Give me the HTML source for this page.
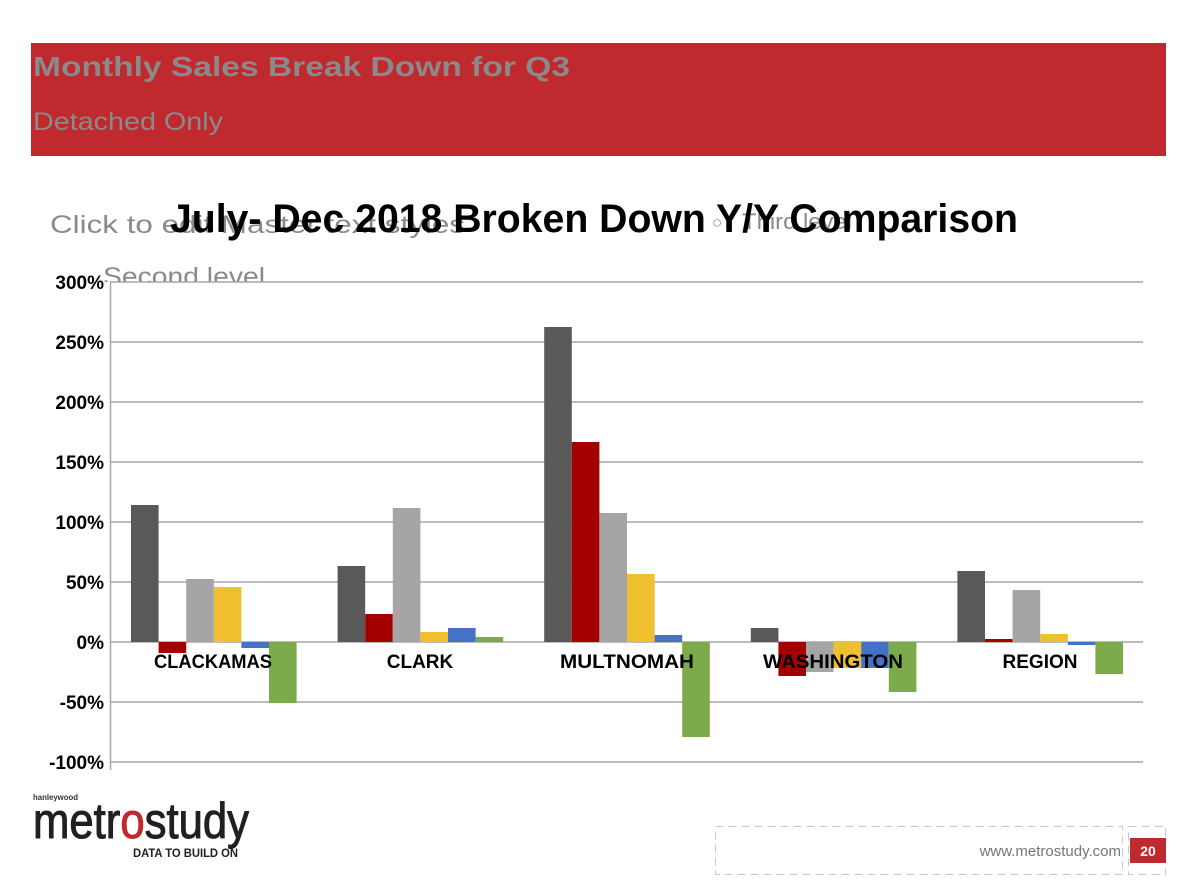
<!DOCTYPE html>
<html><head><meta charset="utf-8"><style>
html,body{margin:0;padding:0;background:#fff;}
svg{display:block;}
</style></head><body>
<svg width="1200" height="888" viewBox="0 0 1200 888" xmlns="http://www.w3.org/2000/svg" font-family="'Liberation Sans', Arial, sans-serif">
<rect width="1200" height="888" fill="#fff"/>
<!-- header -->
<rect x="31" y="43" width="1135" height="113" fill="#c0292e"/>
<text x="33" y="76" font-size="28" font-weight="bold" fill="#8a8a8a" textLength="537" lengthAdjust="spacingAndGlyphs">Monthly Sales Break Down for Q3</text>
<text x="33" y="130" font-size="25" fill="#8a8a8a" textLength="190" lengthAdjust="spacingAndGlyphs">Detached Only</text>

<!-- placeholder text behind -->
<text x="50" y="233" font-size="25" fill="#8a8a8a" textLength="415" lengthAdjust="spacingAndGlyphs">Click to edit Master text styles</text>
<text x="712" y="228" font-size="17" fill="#8a8a8a">○</text>
<text x="742" y="229" font-size="22" fill="#8a8a8a" textLength="110" lengthAdjust="spacingAndGlyphs">Third level</text>
<defs><clipPath id="c2"><rect x="0" y="0" width="1200" height="282"/></clipPath></defs>
<text x="103" y="285" font-size="25" fill="#8a8a8a" clip-path="url(#c2)" textLength="162" lengthAdjust="spacingAndGlyphs">Second level</text>

<!-- chart title -->
<text x="170" y="232" font-size="40" font-weight="bold" fill="#000" textLength="848" lengthAdjust="spacingAndGlyphs">July- Dec 2018 Broken Down Y/Y Comparison</text>

<!-- gridlines -->
<g stroke="#a6a6a6" stroke-width="1.5">
<line x1="110" y1="282" x2="1143" y2="282"/>
<line x1="110" y1="342" x2="1143" y2="342"/>
<line x1="110" y1="402" x2="1143" y2="402"/>
<line x1="110" y1="462" x2="1143" y2="462"/>
<line x1="110" y1="522" x2="1143" y2="522"/>
<line x1="110" y1="582" x2="1143" y2="582"/>
<line x1="110" y1="642" x2="1143" y2="642"/>
<line x1="110" y1="702" x2="1143" y2="702"/>
<line x1="110" y1="762" x2="1143" y2="762"/>
<line x1="110.5" y1="282" x2="110.5" y2="770"/>
</g>

<!-- y labels -->
<g font-size="19" font-weight="bold" fill="#000" text-anchor="end">
<text x="104" y="289">300%</text>
<text x="104" y="349">250%</text>
<text x="104" y="409">200%</text>
<text x="104" y="469">150%</text>
<text x="104" y="529">100%</text>
<text x="104" y="589">50%</text>
<text x="104" y="649">0%</text>
<text x="104" y="709">-50%</text>
<text x="104" y="769">-100%</text>
</g>

<!-- bars -->
<g>
<rect x="131" y="505" width="27.6" height="137" fill="#595959"/>
<rect x="158.6" y="642" width="27.6" height="11" fill="#a50000"/>
<rect x="186.2" y="579" width="27.6" height="63" fill="#a5a5a5"/>
<rect x="213.8" y="587" width="27.6" height="55" fill="#efbf30"/>
<rect x="241.4" y="642" width="27.6" height="6" fill="#4472c4"/>
<rect x="269" y="642" width="27.6" height="61" fill="#7dab4b"/>
<rect x="337.6" y="566" width="27.6" height="76" fill="#595959"/>
<rect x="365.2" y="614" width="27.6" height="28" fill="#a50000"/>
<rect x="392.8" y="508" width="27.6" height="134" fill="#a5a5a5"/>
<rect x="420.4" y="632" width="27.6" height="10" fill="#efbf30"/>
<rect x="448" y="628" width="27.6" height="14" fill="#4472c4"/>
<rect x="475.6" y="637" width="27.6" height="5" fill="#7dab4b"/>
<rect x="544.2" y="327" width="27.6" height="315" fill="#595959"/>
<rect x="571.8" y="442" width="27.6" height="200" fill="#a50000"/>
<rect x="599.4" y="513" width="27.6" height="129" fill="#a5a5a5"/>
<rect x="627" y="574" width="27.6" height="68" fill="#efbf30"/>
<rect x="654.6" y="635" width="27.6" height="7" fill="#4472c4"/>
<rect x="682.2" y="642" width="27.6" height="95" fill="#7dab4b"/>
<rect x="750.8" y="628" width="27.6" height="14" fill="#595959"/>
<rect x="778.4" y="642" width="27.6" height="34" fill="#a50000"/>
<rect x="806" y="642" width="27.6" height="30" fill="#a5a5a5"/>
<rect x="833.6" y="642" width="27.6" height="26" fill="#efbf30"/>
<rect x="861.2" y="642" width="27.6" height="26" fill="#4472c4"/>
<rect x="888.8" y="642" width="27.6" height="50" fill="#7dab4b"/>
<rect x="957.4" y="571" width="27.6" height="71" fill="#595959"/>
<rect x="985" y="639" width="27.6" height="3" fill="#a50000"/>
<rect x="1012.6" y="590" width="27.6" height="52" fill="#a5a5a5"/>
<rect x="1040.2" y="634" width="27.6" height="8" fill="#efbf30"/>
<rect x="1067.8" y="642" width="27.6" height="3" fill="#4472c4"/>
<rect x="1095.4" y="642" width="27.6" height="32" fill="#7dab4b"/>
</g>

<!-- category labels -->
<g font-size="19" font-weight="bold" fill="#000" text-anchor="middle">
<text x="213" y="668" textLength="118" lengthAdjust="spacingAndGlyphs">CLACKAMAS</text>
<text x="420" y="668">CLARK</text>
<text x="627" y="668" textLength="134" lengthAdjust="spacingAndGlyphs">MULTNOMAH</text>
<text x="833" y="668" textLength="140" lengthAdjust="spacingAndGlyphs">WASHINGTON</text>
<text x="1040" y="668">REGION</text>
</g>

<!-- logo -->
<text x="33" y="800" font-size="8" font-weight="bold" fill="#333" textLength="45" lengthAdjust="spacingAndGlyphs">hanleywood</text>
<text x="33" y="838" font-size="50" fill="#231f20" stroke="#231f20" stroke-width="1" textLength="216" lengthAdjust="spacingAndGlyphs">metr<tspan fill="#c0292e" stroke="#c0292e">o</tspan>study</text>
<text x="133" y="857" font-size="12" font-weight="bold" fill="#231f20" textLength="105" lengthAdjust="spacingAndGlyphs">DATA TO BUILD ON</text>

<!-- footer -->
<rect x="715.5" y="826.5" width="407" height="48" fill="none" stroke="#c8c8c8" stroke-dasharray="8,5"/>
<rect x="1128.5" y="826.5" width="37" height="48" fill="none" stroke="#c8c8c8" stroke-dasharray="8,5"/>
<text x="1121" y="856" font-size="15" fill="#777" text-anchor="end">www.metrostudy.com</text>
<rect x="1130" y="838" width="36" height="25" fill="#c0292e"/>
<text x="1148" y="856" font-size="14" font-weight="bold" fill="#fff" text-anchor="middle">20</text>
</svg>
</body></html>
